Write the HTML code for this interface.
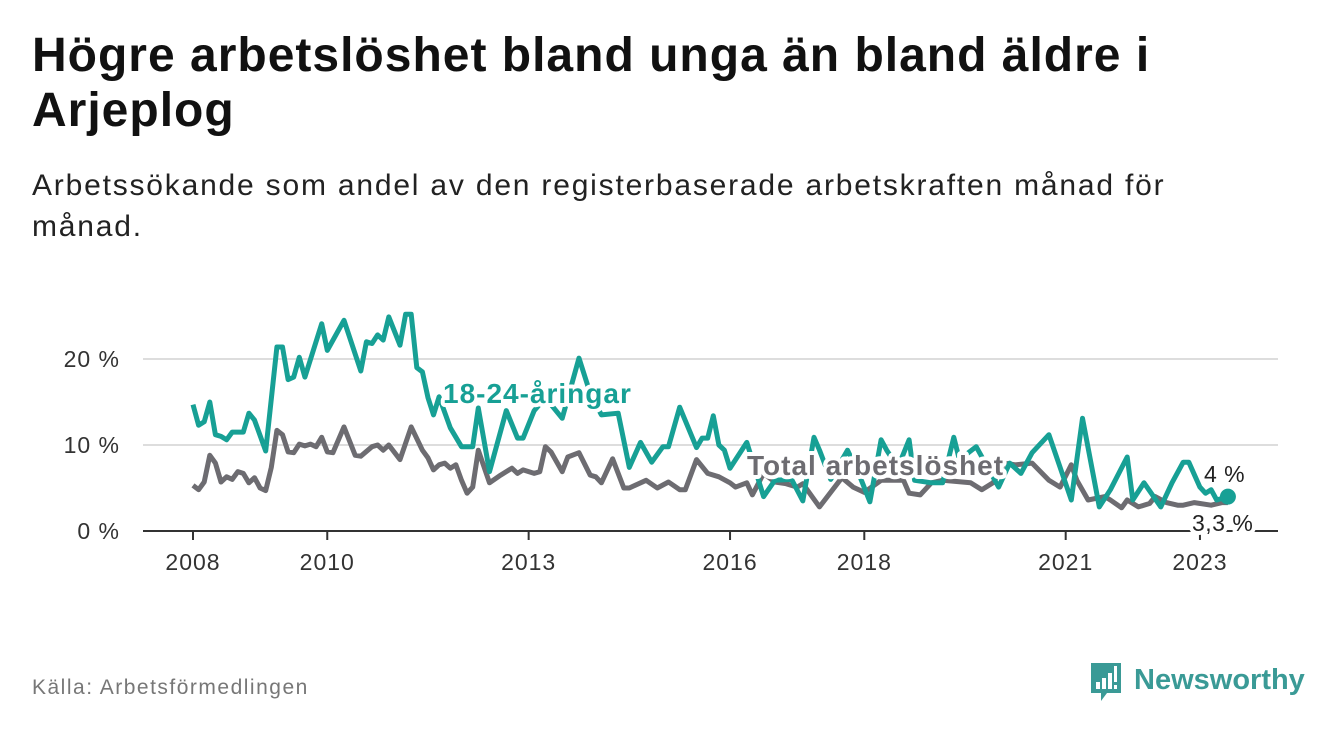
<!DOCTYPE html>
<html><head><meta charset="utf-8"><style>
body{margin:0;width:1340px;height:734px;background:#fff;font-family:"Liberation Sans","DejaVu Sans",sans-serif;overflow:hidden;position:relative}
.t{position:absolute;left:32px;top:28px;font-size:48px;letter-spacing:1px;font-weight:bold;color:#111;line-height:55px;margin:0;white-space:nowrap}
.s{position:absolute;left:32px;top:165px;font-size:30px;letter-spacing:1.8px;color:#222;line-height:41px;margin:0;white-space:nowrap}
.src{position:absolute;left:32px;top:676px;font-size:21px;letter-spacing:1.5px;color:#777}
</style></head><body>
<h1 class="t">Högre arbetslöshet bland unga än bland äldre i<br>Arjeplog</h1>
<p class="s">Arbetssökande som andel av den registerbaserade arbetskraften månad för<br>månad.</p>
<div class="src">Källa: Arbetsförmedlingen</div>
<svg style="position:absolute;left:1088px;top:660px" width="230" height="46">
<path d="M3 3h30v30h-14l-6 8v-8h-10z" fill="#3a9a96"/>
<rect x="8" y="22" width="4" height="7" fill="#fff"/><rect x="14" y="18" width="4" height="11" fill="#fff"/><rect x="20" y="13" width="4" height="16" fill="#fff"/><rect x="26" y="6" width="3" height="16" fill="#fff"/><rect x="26" y="25" width="3" height="4" fill="#fff"/>
<text x="46" y="29" font-size="29" font-weight="bold" fill="#3a9a96" font-family="Liberation Sans, sans-serif">Newsworthy</text>
</svg>
<svg id="chart" width="1340" height="734" style="position:absolute;left:0;top:0"></svg>
<script>
const youthMonths=[0,1,2,3,4,5,6,7,9,10,11,13,15,16,17,18,19,20,23,24,27,30,31,32,33,34,35,37,38,39,40,41,42,43,44,46,48,50,51,53,56,58,59,61,63,66,69,71,73,76,78,80,82,84,85,87,90,91,92,93,94,95,96,99,102,104,107,109,111,112,114,117,119,121,123,124,126,128,129,132,134,136,137,140,144,146,148,150,153,157,159,162,164,167,168,170,173,175,177,178,180,181,182,183,185];
const youthValues=[14.7,12.3,12.7,15.0,11.2,11.0,10.6,11.5,11.5,13.7,12.9,9.3,21.4,21.4,17.6,17.9,20.2,17.9,24.1,21.0,24.5,18.6,22.0,21.8,22.8,22.2,24.9,21.6,25.2,25.2,19.0,18.5,15.5,13.5,15.6,12.0,9.8,9.8,14.3,6.9,14.0,10.8,10.8,14.0,15.5,13.1,20.1,16.0,13.5,13.7,7.4,10.3,8.0,9.8,9.8,14.4,9.7,10.8,10.8,13.4,10.0,9.4,7.3,10.3,4.0,5.9,6.0,3.5,10.9,9.4,6.0,9.4,6.7,3.4,10.6,9.4,7.4,10.6,5.9,5.6,5.6,10.9,8.3,9.8,5.1,7.9,6.7,9.1,11.2,3.6,13.1,2.8,4.8,8.6,3.6,5.6,2.8,5.6,8.0,8.0,5.1,4.4,4.8,3.6,4.0];
const totalMonths=[0,1,2,3,4,5,6,7,8,9,10,11,12,13,14,15,16,17,18,19,20,21,22,23,24,25,27,29,30,32,33,34,35,37,39,41,42,43,44,45,46,47,48,49,50,51,53,55,57,58,59,61,62,63,64,66,67,69,71,72,73,75,77,78,81,83,85,87,88,90,92,94,96,97,99,100,102,104,106,108,109,112,116,118,120,123,127,128,130,132,134,139,141,143,145,147,150,153,155,157,158,160,163,164,166,167,169,171,172,174,176,177,179,182,184,185];
const totalValues=[5.3,4.8,5.7,8.8,7.9,5.7,6.3,6.0,6.9,6.7,5.6,6.2,5.0,4.7,7.4,11.7,11.2,9.2,9.1,10.1,9.9,10.1,9.8,10.9,9.2,9.1,12.1,8.8,8.7,9.8,10.0,9.4,10.0,8.3,12.1,9.4,8.5,7.1,7.7,7.9,7.3,7.7,5.9,4.4,5.1,9.4,5.6,6.5,7.3,6.7,7.1,6.7,6.9,9.8,9.2,6.9,8.6,9.1,6.5,6.3,5.6,8.4,5.0,5.0,5.9,5.0,5.7,4.8,4.8,8.3,6.7,6.3,5.6,5.1,5.6,4.2,6.7,5.7,5.5,5.1,5.5,2.8,6.2,5.1,4.5,5.9,5.9,4.4,4.2,5.6,5.9,5.6,4.8,5.6,7.9,7.7,7.9,5.9,5.1,7.7,5.9,3.6,4.0,3.6,2.7,3.6,2.8,3.2,4.0,3.3,3.0,3.0,3.3,3.0,3.3,3.3];
const yTicks=[0,10,20];
const yTickLabels=["0 %","10 %","20 %"];
const xTicks=[2008,2010,2013,2016,2018,2021,2023];
const NS="http://www.w3.org/2000/svg";
const svg=document.getElementById('chart');
function x(m){return 193+m*(67.13/12);}
function xYear(yr){return 193+(yr-2008)*67.13;}
function y(v){return 531-v*8.6;}
function el(tag,attrs,parent){const e=document.createElementNS(NS,tag);for(const k in attrs)e.setAttribute(k,attrs[k]);(parent||svg).appendChild(e);return e;}
yTicks.forEach((t,i)=>{
  if(t>0){const g=el('line',{x1:143,x2:1278,y1:y(t),y2:y(t),stroke:'#ddd','stroke-width':2});
  
  }
  const tx=el('text',{x:120,y:y(t)+8,'text-anchor':'end','font-size':23,'letter-spacing':1,fill:'#333'});
  tx.textContent=yTickLabels[i];
  
  
});
const ax=el('line',{x1:143,x2:1278,y1:531,y2:531,stroke:'#333','stroke-width':2});


xTicks.forEach(t=>{
  const tk=el('line',{x1:xYear(t),x2:xYear(t),y1:531,y2:540,stroke:'#333','stroke-width':2});
  
  
  const tx=el('text',{x:xYear(t),y:570,'text-anchor':'middle','font-size':23,'letter-spacing':1,fill:'#333'});
  tx.textContent=t;
  
  
});
function path(ms,vs){return ms.map((m,i)=>(i?'L':'M')+x(m).toFixed(1)+' '+y(vs[i]).toFixed(1)).join(' ');}
const lt=el('path',{d:path(totalMonths,totalValues),fill:'none',stroke:'#6d6c71','stroke-width':5,'stroke-linejoin':'round'});


const ly=el('path',{d:path(youthMonths,youthValues),fill:'none',stroke:'#17a095','stroke-width':5,'stroke-linejoin':'round'});


const lastM=youthMonths[youthMonths.length-1];
const dot=el('circle',{cx:x(lastM),cy:y(youthValues[youthValues.length-1]),r:8,fill:'#17a095'});


function label(txt,xx,yy,fill,size,bold,ls,name){
  const t=el('text',{x:xx,y:yy,'font-size':size,'letter-spacing':ls,'font-weight':bold?'bold':'normal',fill:fill,stroke:'#fff','stroke-width':8,'paint-order':'stroke','stroke-linejoin':'round'});
  t.textContent=txt;
  
  
}
label('18-24-åringar',443,403,'#17a095',28,true,1,'youth-series-label');
label('Total arbetslöshet',747,475,'#6d6c71',28,true,1,'total-series-label');
label('4 %',1204,482,'#222',23,false,0.5,'youth-end-value');
label('3,3 %',1192,531,'#222',23,false,0.5,'total-end-value');
</script>
</body></html>
